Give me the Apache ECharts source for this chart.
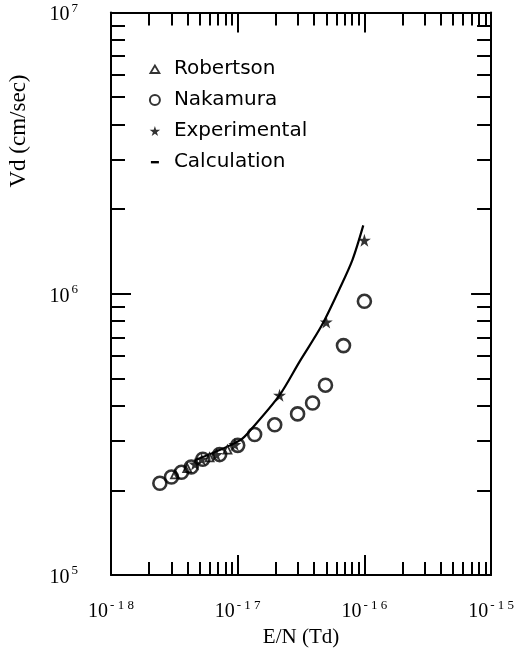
<!DOCTYPE html>
<html>
<head>
<meta charset="utf-8">
<script src="https://cdn.jsdelivr.net/npm/echarts@6/dist/echarts.min.js"></script>
<style>
  html, body { margin: 0; padding: 0; background: #fff; }
  #main { width: 517px; height: 653px; }
</style>
</head>
<body>
<div id="main"></div>
<script>
var robertsonX = [3.2e-18, 4.0e-18, 6.0e-18, 8.3e-18];
var robertsonY = [2.28e5, 2.40e5, 2.62e5, 2.79e5];

var nakamuraX = [2.43e-18, 3.0e-18, 3.6e-18, 4.3e-18, 5.3e-18, 7.2e-18, 1.0e-17, 1.36e-17, 1.96e-17, 2.97e-17, 3.9e-17, 4.93e-17, 6.84e-17, 1.0e-16];
var nakamuraY = [2.12e5, 2.23e5, 2.32e5, 2.42e5, 2.58e5, 2.68e5, 2.89e5, 3.16e5, 3.42e5, 3.74e5, 4.09e5, 4.73e5, 6.54e5, 9.4e5];

var experimentalX = [4.6e-18, 5.2e-18, 6.8e-18, 9.5e-18, 2.14e-17, 5.0e-17, 1.0e-16];
var experimentalY = [2.48e5, 2.58e5, 2.68e5, 2.91e5, 4.36e5, 7.94e5, 1.55e6];

var calculationX = [4.6e-18, 1.04e-17, 1.31e-17, 2.14e-17, 3.08e-17, 4.59e-17, 6.36e-17, 8.05e-17, 9.8e-17];
var calculationY = [2.56e5, 3.01e5, 3.34e5, 4.36e5, 5.74e5, 7.69e5, 1.04e6, 1.32e6, 1.75e6];

// tick labels: exponents of 10
var xExponents = ['- 1 8', '- 1 7', '- 1 6', '- 1 5'];
var yExponents = ['5', '6', '7'];

function pairs(xs, ys) {
  var out = [];
  for (var i = 0; i < xs.length; i++) out.push([xs[i], ys[i]]);
  return out;
}

// minor tick positions (log10 space) for 2..9 in each decade
function minorTicks(from, to) {
  var t = [];
  for (var n = from; n < to; n++) {
    for (var k = 2; k <= 9; k++) t.push(n + Math.log10(k));
  }
  return t;
}

var star = 'path://M50,0 L61,35 L98,35 L68,57 L79,91 L50,70 L21,91 L32,57 L2,35 L39,35 Z';
// legend icons padded with empty moves so they keep a small size inside the 28x10 box
var dashIcon = 'path://M0,0M28,10M10,4h8v2.4h-8z';
var triIcon = 'path://M0,0M28,10M14,1.5L18.5,9L9.5,9Z';
var black = '#000';
var serif = '"Liberation Serif", "DejaVu Serif", serif';

var rich = {
  b: { fontFamily: serif, fontSize: 20, color: black, lineHeight: 25, verticalAlign: 'bottom' },
  s: { fontFamily: serif, fontSize: 13, color: black, lineHeight: 25, verticalAlign: 'top', padding: [2, 0, 0, 2] }
};

function majorAxis(extra) {
  var base = {
    type: 'log',
    logBase: 10,
    axisLine: { show: true, onZero: false, lineStyle: { color: black, width: 2 } },
    axisTick: { show: true, inside: true, length: 20, lineStyle: { color: black, width: 2 } },
    splitLine: { show: false },
    axisLabel: { show: false }
  };
  for (var k in extra) base[k] = extra[k];
  return base;
}

function minorAxis(extra) {
  var base = {
    type: 'value',
    axisLine: { show: false, onZero: false },
    splitLine: { show: false },
    axisLabel: { show: false }
  };
  for (var k in extra) base[k] = extra[k];
  return base;
}

var xMinor = { show: true, inside: true, length: 13, customValues: minorTicks(-18, -15), lineStyle: { color: black, width: 2 } };
var yMinor = { show: true, inside: true, length: 14, customValues: minorTicks(5, 7), lineStyle: { color: black, width: 2 } };

var myChart = echarts.init(document.getElementById('main'));

var option = {
  backgroundColor: '#fff',
  animation: false,
  grid: { left: 111, right: 25, top: 10, bottom: 74 },
  legend: {
    orient: 'vertical',
    left: 135,
    top: 54,
    itemWidth: 28,
    itemHeight: 10,
    itemGap: 11,
    textStyle: { fontFamily: '"DejaVu Sans", sans-serif', fontSize: 20, color: black, lineHeight: 20 },
    data: [
      { name: 'Robertson', icon: triIcon, itemStyle: { color: '#fff', borderColor: black, borderWidth: 1.8 } },
      { name: 'Nakamura', itemStyle: { color: '#fff', borderColor: black, borderWidth: 2 } },
      { name: 'Experimental' },
      { name: 'Calculation', icon: dashIcon, itemStyle: { color: black } }
    ]
  },
  xAxis: [
    majorAxis({
      min: 1e-18, max: 1e-15, position: 'bottom',
      axisLabel: {
        show: true, margin: 22,
        formatter: function (v) {
          var e = Math.round(Math.log10(v));
          return '{b|10}{s|' + xExponents[e + 18] + '}';
        },
        rich: rich
      },
      name: 'E/N (Td)', nameLocation: 'middle', nameGap: 52,
      nameTextStyle: { fontFamily: serif, fontSize: 21, color: black }
    }),
    minorAxis({ min: -18, max: -15, position: 'bottom', axisTick: xMinor }),
    majorAxis({ min: 1e-18, max: 1e-15, position: 'top' }),
    minorAxis({ min: -18, max: -15, position: 'top', axisTick: xMinor })
  ],
  yAxis: [
    majorAxis({
      min: 1e5, max: 1e7, position: 'left',
      axisLabel: {
        show: true, margin: 33,
        formatter: function (v) {
          var e = Math.round(Math.log10(v));
          return '{b|10}{s|' + yExponents[e - 5] + '}';
        },
        rich: rich
      }
    }),
    minorAxis({ min: 5, max: 7, position: 'left', axisTick: yMinor }),
    majorAxis({ min: 1e5, max: 1e7, position: 'right' }),
    minorAxis({ min: 5, max: 7, position: 'right', axisTick: yMinor })
  ],
  graphic: [{
    type: 'text',
    x: 19, y: 131,
    rotation: Math.PI / 2,
    style: { text: 'Vd (cm/sec)', font: '23px ' + serif, fill: black, textAlign: 'center', textVerticalAlign: 'middle' }
  }],
  series: [
    {
      name: 'Calculation',
      type: 'line',
      smooth: 0.3,
      showSymbol: false,
      symbol: 'none',
      lineStyle: { color: black, width: 2.2 },
      itemStyle: { color: black },
      data: pairs(calculationX, calculationY),
      z: 2
    },
    {
      name: 'Robertson',
      type: 'scatter',
      symbol: 'triangle',
      symbolSize: 8,
      itemStyle: { color: '#fff', borderColor: black, borderWidth: 1.8 },
      data: pairs(robertsonX, robertsonY),
      z: 3
    },
    {
      name: 'Nakamura',
      type: 'scatter',
      symbol: 'circle',
      symbolSize: 13,
      itemStyle: { color: 'rgba(255,255,255,0)', borderColor: black, borderWidth: 2.6 },
      data: pairs(nakamuraX, nakamuraY),
      z: 3
    },
    {
      name: 'Experimental',
      type: 'scatter',
      symbol: star,
      symbolSize: 13,
      itemStyle: { color: black },
      data: pairs(experimentalX, experimentalY),
      z: 4
    }
  ]
};
myChart.setOption(option);
</script>
</body>
</html>
